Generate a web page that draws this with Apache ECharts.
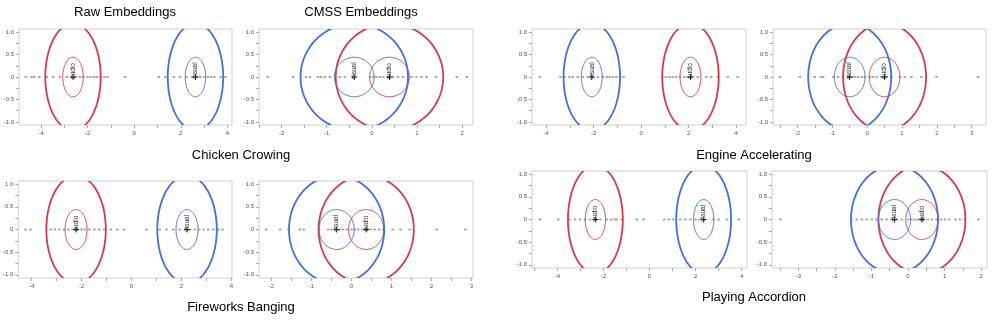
<!DOCTYPE html>
<html><head><meta charset="utf-8">
<script src="https://cdn.jsdelivr.net/npm/echarts@6/dist/echarts.min.js"></script>
<style>html,body{margin:0;padding:0;background:#fff}#c{width:997px;height:320px}</style>
</head><body><div id="c"></div>
<script>
// ---- data ----
const columnTitles = ["Raw Embeddings", "CMSS Embeddings"];
const rowTitles = ["Chicken Crowing", "Engine Accelerating", "Fireworks Banging", "Playing Accordion"];
const modalities = ["audio", "visual"];
const innerRadius = 0.44;
const outerRadius = 1.19;

const rawChickenX = [-4.66,-4.41,-4.30,-4.08,-3.76,-3.48,-3.19,-2.90,-2.69,-2.50,-2.33,-2.18,-2.01,-1.87,-1.72,-1.61,-1.47,-1.29,-1.15,-0.39,1.05,1.34,1.70,1.98,2.24,2.49,2.70,2.84,3.02,3.16,3.30,3.45,3.71,3.92];
const cmssChickenX = [-2.31,-1.74,-1.46,-1.37,-1.19,-1.12,-1.04,-0.93,-0.71,-0.60,-0.41,-0.04,0.03,0.10,0.18,0.25,0.36,0.47,0.58,0.69,0.88,0.99,1.10,1.21,1.43,1.88,2.10];
const rawEngineX = [-4.28,-3.40,-3.23,-3.02,-2.88,-2.67,-2.46,-2.25,-2.04,-1.82,-1.61,-1.45,-1.33,-1.19,-1.05,-0.88,-0.74,0.88,1.05,1.19,1.33,1.47,1.64,1.82,1.96,2.15,2.39,2.74,2.95,3.23,3.65,4.07];
const cmssEngineX = [-2.50,-1.93,-1.50,-1.33,-1.26,-0.97,-0.83,-0.69,-0.54,-0.43,-0.35,-0.26,-0.16,-0.07,0.08,0.17,0.27,0.41,0.55,0.70,0.94,1.08,1.27,1.56,1.99,3.18];
const rawFireworksX = [-4.24,-4.04,-3.24,-3.07,-2.89,-2.71,-2.53,-2.36,-2.17,-2.00,-1.87,-1.69,-1.49,-1.29,-1.09,-0.83,-0.57,-0.31,0.60,1.13,1.40,1.67,1.93,2.13,2.33,2.53,2.71,2.89,3.07,3.27,3.47,3.64];
const cmssFireworksX = [-2.13,-1.78,-1.57,-1.29,-1.19,-0.81,-0.58,-0.50,-0.38,-0.29,-0.21,-0.11,0.00,0.08,0.17,0.28,0.38,0.48,0.58,0.69,0.79,1.03,1.23,1.46,2.13,2.85];
const rawAccordionX = [-4.75,-3.96,-3.48,-3.23,-3.01,-2.80,-2.58,-2.36,-2.14,-1.86,-1.67,-1.52,-1.42,-1.20,-0.55,-0.26,0.64,0.83,1.04,1.33,1.55,1.77,1.99,2.17,2.38,2.78,3.00,3.36,3.87];
const cmssAccordionX = [-3.49,-1.55,-1.40,-1.26,-1.13,-0.99,-0.87,-0.72,-0.58,-0.45,-0.31,-0.17,0.01,0.10,0.19,0.28,0.42,0.54,0.65,0.78,0.90,1.01,1.12,1.30,1.42,1.55,1.92];

// centers [audio, visual] per panel
const rawChickenCenters = [-2.63, 2.63];
const cmssChickenCenters = [0.39, -0.39];
const rawEngineCenters = [2.08, -2.08];
const cmssEngineCenters = [0.5, -0.5];
const rawFireworksCenters = [-2.22, 2.22];
const cmssFireworksCenters = [0.37, -0.37];
const rawAccordionCenters = [-2.35, 2.35];
const cmssAccordionCenters = [0.38, -0.37];

const yTickLabels = [-1.0, -0.5, 0, 0.5, 1.0];
const yTicks = [-1.0,-0.75,-0.5,-0.25,0,0.25,0.5,0.75,1.0];

// ---- layout ----
const panels = [
  {g:[19,29,213,96], xr:[-4.95,4.2], lab:[-4,-2,0,2,4], tk:[-4,-3,-2,-1,0,1,2,3,4], pts:rawChickenX, c:rawChickenCenters},
  {g:[259,29,214,96], xr:[-2.5,2.24], lab:[-2,-1,0,1,2], tk:[-2.5,-2,-1.5,-1,-0.5,0,0.5,1,1.5,2], pts:cmssChickenX, c:cmssChickenCenters},
  {g:[532,29,214,96], xr:[-4.6,4.42], lab:[-4,-2,0,2,4], tk:[-4,-3,-2,-1,0,1,2,3,4], pts:rawEngineX, c:rawEngineCenters},
  {g:[773,29,213,96], xr:[-2.7,3.41], lab:[-2,-1,0,1,2,3], tk:[-2.5,-2,-1.5,-1,-0.5,0,0.5,1,1.5,2,2.5,3], pts:cmssEngineX, c:cmssEngineCenters},
  {g:[18,181,214,97], xr:[-4.53,4.02], lab:[-4,-2,0,2,4], tk:[-4,-3,-2,-1,0,1,2,3,4], pts:rawFireworksX, c:rawFireworksCenters},
  {g:[259,181,214,97], xr:[-2.31,3.04], lab:[-2,-1,0,1,2,3], tk:[-2,-1.5,-1,-0.5,0,0.5,1,1.5,2,2.5,3], pts:cmssFireworksX, c:cmssFireworksCenters},
  {g:[532,171,215,97], xr:[-5.1,4.23], lab:[-4,-2,0,2,4], tk:[-5,-4,-3,-2,-1,0,1,2,3,4], pts:rawAccordionX, c:rawAccordionCenters},
  {g:[772,171,215,97], xr:[-3.72,2.16], lab:[-3,-2,-1,0,1,2], tk:[-3.5,-3,-2.5,-2,-1.5,-1,-0.5,0,0.5,1,1.5,2], pts:cmssAccordionX, c:cmssAccordionCenters}
];

const RED = '#d8394a', BLUE = '#3f6fe3';
const colorOf = m => m === 'audio' ? RED : BLUE;

const grid = [], xAxis = [], yAxis = [], series = [];
const axisFont = {fontSize: 6, color: '#555', fontFamily: 'Liberation Sans'};
panels.forEach((p, i) => {
  grid.push({left: p.g[0], top: p.g[1], width: p.g[2], height: p.g[3], show: true, borderColor: '#cfcfcf', borderWidth: 1, containLabel: false});
  xAxis.push({gridIndex: i, type: 'value', min: p.xr[0], max: p.xr[1], position: 'bottom',
    axisLine: {show: false, onZero: false}, splitLine: {show: false},
    axisTick: {show: true, customValues: p.tk, length: 3, lineStyle: {color: '#aaa'}},
    axisLabel: Object.assign({customValues: p.lab, margin: 5, formatter: v => String(v)}, axisFont)});
  yAxis.push({gridIndex: i, type: 'value', min: -1.07, max: 1.07, position: 'left',
    axisLine: {show: false, onZero: false}, splitLine: {show: false},
    axisTick: {show: true, customValues: yTicks, length: 3, lineStyle: {color: '#aaa'}},
    axisLabel: Object.assign({customValues: yTickLabels, margin: 5, formatter: v => v === 0 ? '0' : v.toFixed(1)}, axisFont)});

  series.push({type: 'scatter', xAxisIndex: i, yAxisIndex: i, symbol: 'rect', symbolSize: [2.5, 1.8],
    itemStyle: {color: '#8a8a8a'}, silent: true, data: p.pts.map(x => [x, 0]), z: 2});

  const circles = [];
  modalities.forEach((m, k) => {
    circles.push({value: [p.c[k], 0, outerRadius], mod: m, w: 1.8});
    circles.push({value: [p.c[k], 0, innerRadius], mod: m, w: 1.0});
  });
  series.push({type: 'custom', xAxisIndex: i, yAxisIndex: i, silent: true, z: 3,
    data: circles.map(c => ({value: c.value})),
    renderItem: (params, api) => {
      const d = circles[params.dataIndex];
      const cx = api.value(0), cy = api.value(1), r = api.value(2);
      const pts = [];
      for (let t = 0; t <= 180; t++) {
        const a = t / 180 * Math.PI * 2;
        pts.push(api.coord([cx + r * Math.cos(a), cy + r * Math.sin(a)]));
      }
      const cs = params.coordSys;
      return {type: 'group', clipPath: {type: 'rect', shape: {x: cs.x, y: cs.y, width: cs.width, height: cs.height}},
        children: [{type: 'polyline', shape: {points: pts}, style: {stroke: colorOf(d.mod), fill: null, lineWidth: d.w}}]};
    }});

  series.push({type: 'custom', xAxisIndex: i, yAxisIndex: i, silent: true, z: 4,
    data: modalities.map((m, k) => ({value: [p.c[k], 0], name: m})),
    renderItem: (params, api) => {
      const pt = api.coord([api.value(0), api.value(1)]);
      const name = modalities[params.dataIndex];
      return {type: 'group', children: [
        {type: 'line', shape: {x1: pt[0] - 3, y1: pt[1], x2: pt[0] + 3, y2: pt[1]}, style: {stroke: '#222', lineWidth: 1}},
        {type: 'line', shape: {x1: pt[0], y1: pt[1] - 3, x2: pt[0], y2: pt[1] + 3}, style: {stroke: '#222', lineWidth: 1}},
        {type: 'text', x: pt[0], y: pt[1] + 2, rotation: Math.PI / 2,
          style: {text: name, fontSize: 6.5, fill: '#333', fontFamily: 'Liberation Sans', align: 'left', verticalAlign: 'middle'}}
      ]};
    }});
});

const titleFont = {fontSize: 13, fill: '#000', fontFamily: 'Liberation Sans', align: 'center', verticalAlign: 'middle'};
const graphic = [
  {type: 'text', x: 125, y: 12, style: Object.assign({text: columnTitles[0]}, titleFont)},
  {type: 'text', x: 361, y: 12, style: Object.assign({text: columnTitles[1]}, titleFont)},
  {type: 'text', x: 241, y: 155, style: Object.assign({text: rowTitles[0]}, titleFont)},
  {type: 'text', x: 754, y: 155, style: Object.assign({text: rowTitles[1]}, titleFont)},
  {type: 'text', x: 241, y: 307, style: Object.assign({text: rowTitles[2]}, titleFont)},
  {type: 'text', x: 754, y: 297, style: Object.assign({text: rowTitles[3]}, titleFont)}
];

const chart = echarts.init(document.getElementById('c'), null, {renderer: 'canvas'});
chart.setOption({animation: false, backgroundColor: '#fff', grid, xAxis, yAxis, series, graphic});
</script>
</body></html>
